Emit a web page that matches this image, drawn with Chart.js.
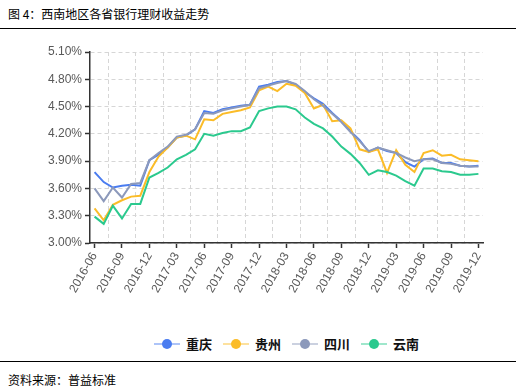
<!DOCTYPE html>
<html>
<head>
<meta charset="utf-8">
<script src="https://cdn.jsdelivr.net/npm/chart.js@4.4.1/dist/chart.umd.min.js"></script>
<style>
  html, body { margin: 0; padding: 0; background: #fff; }
  #wrap { position: relative; width: 516px; height: 392px; overflow: hidden; font-family: "Noto Sans CJK SC", sans-serif; color: #000; }
  .title { position: absolute; left: 8px; top: 5px; font-size: 12px; line-height: 18px; }
  .rule { position: absolute; left: 0; width: 516px; height: 0; border-top: 1.5px solid #000; }
  #chart { position: absolute; left: 0; top: 30px; }
  #legend { position: absolute; left: 154px; top: 336px; display: flex; align-items: center; height: 16px; }
  .item { display: flex; align-items: center; margin-right: 11px; }
  .icon { position: relative; width: 26px; height: 12px; margin-right: 6px; }
  .icon .ln { position: absolute; left: 0; right: 0; top: 5px; height: 2px; opacity: .45; }
  .icon .dot { position: absolute; left: 8px; top: 1px; width: 10px; height: 10px; border-radius: 50%; }
  .item .t { font-size: 13px; font-weight: bold; line-height: 16px; color: #111; }
  .source { position: absolute; left: 8px; top: 372px; font-size: 12px; line-height: 16px; }
</style>
</head>
<body>
<div id="wrap">
  <div class="title">图 4：西南地区各省银行理财收益走势</div>
  <div class="rule" style="top:28px"></div>
  <canvas id="chart" width="516" height="300"></canvas>
  <div id="legend"></div>
  <div class="rule" style="top:361px"></div>
  <div class="source">资料来源：普益标准</div>
</div>
<script>
// 月份
const months = [
  '2016-06','2016-07','2016-08','2016-09','2016-10','2016-11','2016-12',
  '2017-01','2017-02','2017-03','2017-04','2017-05','2017-06','2017-07','2017-08','2017-09','2017-10','2017-11','2017-12',
  '2018-01','2018-02','2018-03','2018-04','2018-05','2018-06','2018-07','2018-08','2018-09','2018-10','2018-11','2018-12',
  '2019-01','2019-02','2019-03','2019-04','2019-05','2019-06','2019-07','2019-08','2019-09','2019-10','2019-11','2019-12'
];

// 收益率 (%)
const chongqing = [3.78,3.67,3.61,3.63,3.64,3.63,3.91,3.97,4.05,4.16,4.18,4.25,4.45,4.43,4.47,4.49,4.51,4.52,4.72,4.74,4.77,4.78,4.74,4.66,4.59,4.53,4.43,4.34,4.23,4.13,4.00,4.05,4.01,3.99,3.89,3.84,3.92,3.93,3.88,3.88,3.85,3.84,3.85];
const guizhou   = [3.38,3.25,3.42,3.47,3.51,3.52,3.78,3.95,4.05,4.16,4.18,4.14,4.36,4.35,4.42,4.44,4.46,4.49,4.68,4.72,4.67,4.75,4.73,4.65,4.48,4.52,4.34,4.35,4.26,4.03,4.00,4.03,3.77,4.02,3.86,3.78,3.99,4.02,3.96,3.97,3.92,3.91,3.90];
const sichuan   = [3.60,3.46,3.61,3.50,3.65,3.66,3.91,3.99,4.06,4.17,4.19,4.25,4.43,4.42,4.46,4.48,4.50,4.52,4.70,4.73,4.76,4.78,4.75,4.67,4.58,4.51,4.42,4.33,4.22,4.12,4.01,4.05,4.02,3.99,3.94,3.90,3.92,3.92,3.88,3.87,3.85,3.84,3.84];
const yunnan    = [3.29,3.21,3.41,3.27,3.43,3.43,3.72,3.77,3.83,3.92,3.97,4.03,4.20,4.18,4.21,4.23,4.23,4.27,4.45,4.48,4.50,4.50,4.47,4.38,4.31,4.26,4.17,4.06,3.98,3.88,3.75,3.80,3.78,3.74,3.68,3.63,3.82,3.82,3.79,3.78,3.75,3.75,3.76];

const seriesNames  = ['重庆', '贵州', '四川', '云南'];
const seriesColors = ['#4a7cf0', '#fbbc28', '#8c99bb', '#2bc98e'];
const seriesValues = [chongqing, guizhou, sichuan, yunnan];

const yMin = 3.0, yMax = 5.1, yStep = 0.3;

const tickFont = { family: '"Liberation Sans", Arial, sans-serif', size: 12 };
const axisColor = '#333';
const gridColor = '#d6d6d6';

const datasets = seriesNames.map((name, i) => ({
    label: name,
    data: seriesValues[i],
    borderColor: seriesColors[i],
    backgroundColor: seriesColors[i],
    borderWidth: 2,
    pointRadius: 0,
    tension: 0,
    fill: false,
    order: seriesNames.length - i
}));

new Chart(document.getElementById('chart').getContext('2d'), {
    type: 'line',
    data: { labels: months, datasets: datasets },
    options: {
        responsive: false,
        animation: false,
        layout: { padding: { top: 22, right: 33, bottom: 0, left: 0 } },
        plugins: { legend: { display: false }, tooltip: { enabled: false } },
        scales: {
            x: {
                type: 'category',
                offset: true,
                border: { color: axisColor, width: 1.5 },
                grid: {
                    drawOnChartArea: false,
                    drawTicks: true,
                    tickLength: 5,
                    tickColor: axisColor,
                    tickWidth: 1.5
                },
                ticks: {
                    autoSkip: false,
                    minRotation: 60,
                    maxRotation: 60,
                    padding: 2,
                    color: '#595959',
                    font: tickFont,
                    callback: function(value, index) {
                        return index % 3 === 0 ? this.getLabelForValue(value) : null;
                    }
                },
                afterFit: (scale) => { scale.height = 87; }
            },
            // 竖向虚线网格 (位于刻度之间)
            xGrid: {
                type: 'linear',
                position: 'top',
                min: -0.5,
                max: months.length - 0.5,
                border: { display: false, dash: [4, 3] },
                grid: { color: gridColor, drawTicks: false, lineWidth: 1 },
                ticks: { display: false },
                afterBuildTicks: (scale) => {
                    const t = [];
                    for (let v = 1.5; v < months.length - 1; v += 3) t.push({ value: v });
                    scale.ticks = t;
                },
                afterFit: (scale) => { scale.height = 0; }
            },
            y: {
                min: yMin,
                max: yMax,
                border: { color: axisColor, width: 1.5, dash: [4, 3] },
                grid: {
                    color: gridColor,
                    lineWidth: 1,
                    drawTicks: true,
                    tickLength: 5,
                    tickColor: axisColor,
                    tickWidth: 1.5,
                    tickBorderDash: []
                },
                ticks: {
                    stepSize: yStep,
                    padding: 3,
                    color: '#595959',
                    font: tickFont,
                    callback: (v) => Number(v).toFixed(2) + '%'
                },
                afterFit: (scale) => { scale.width = 90; }
            }
        }
    }
});

// 图例
const legend = document.getElementById('legend');
seriesNames.forEach((name, i) => {
    const item = document.createElement('div');
    item.className = 'item';
    item.innerHTML =
        '<div class="icon"><div class="ln" style="background:' + seriesColors[i] + '"></div>' +
        '<div class="dot" style="background:' + seriesColors[i] + '"></div></div>' +
        '<span class="t">' + name + '</span>';
    legend.appendChild(item);
});
</script>
</body>
</html>
